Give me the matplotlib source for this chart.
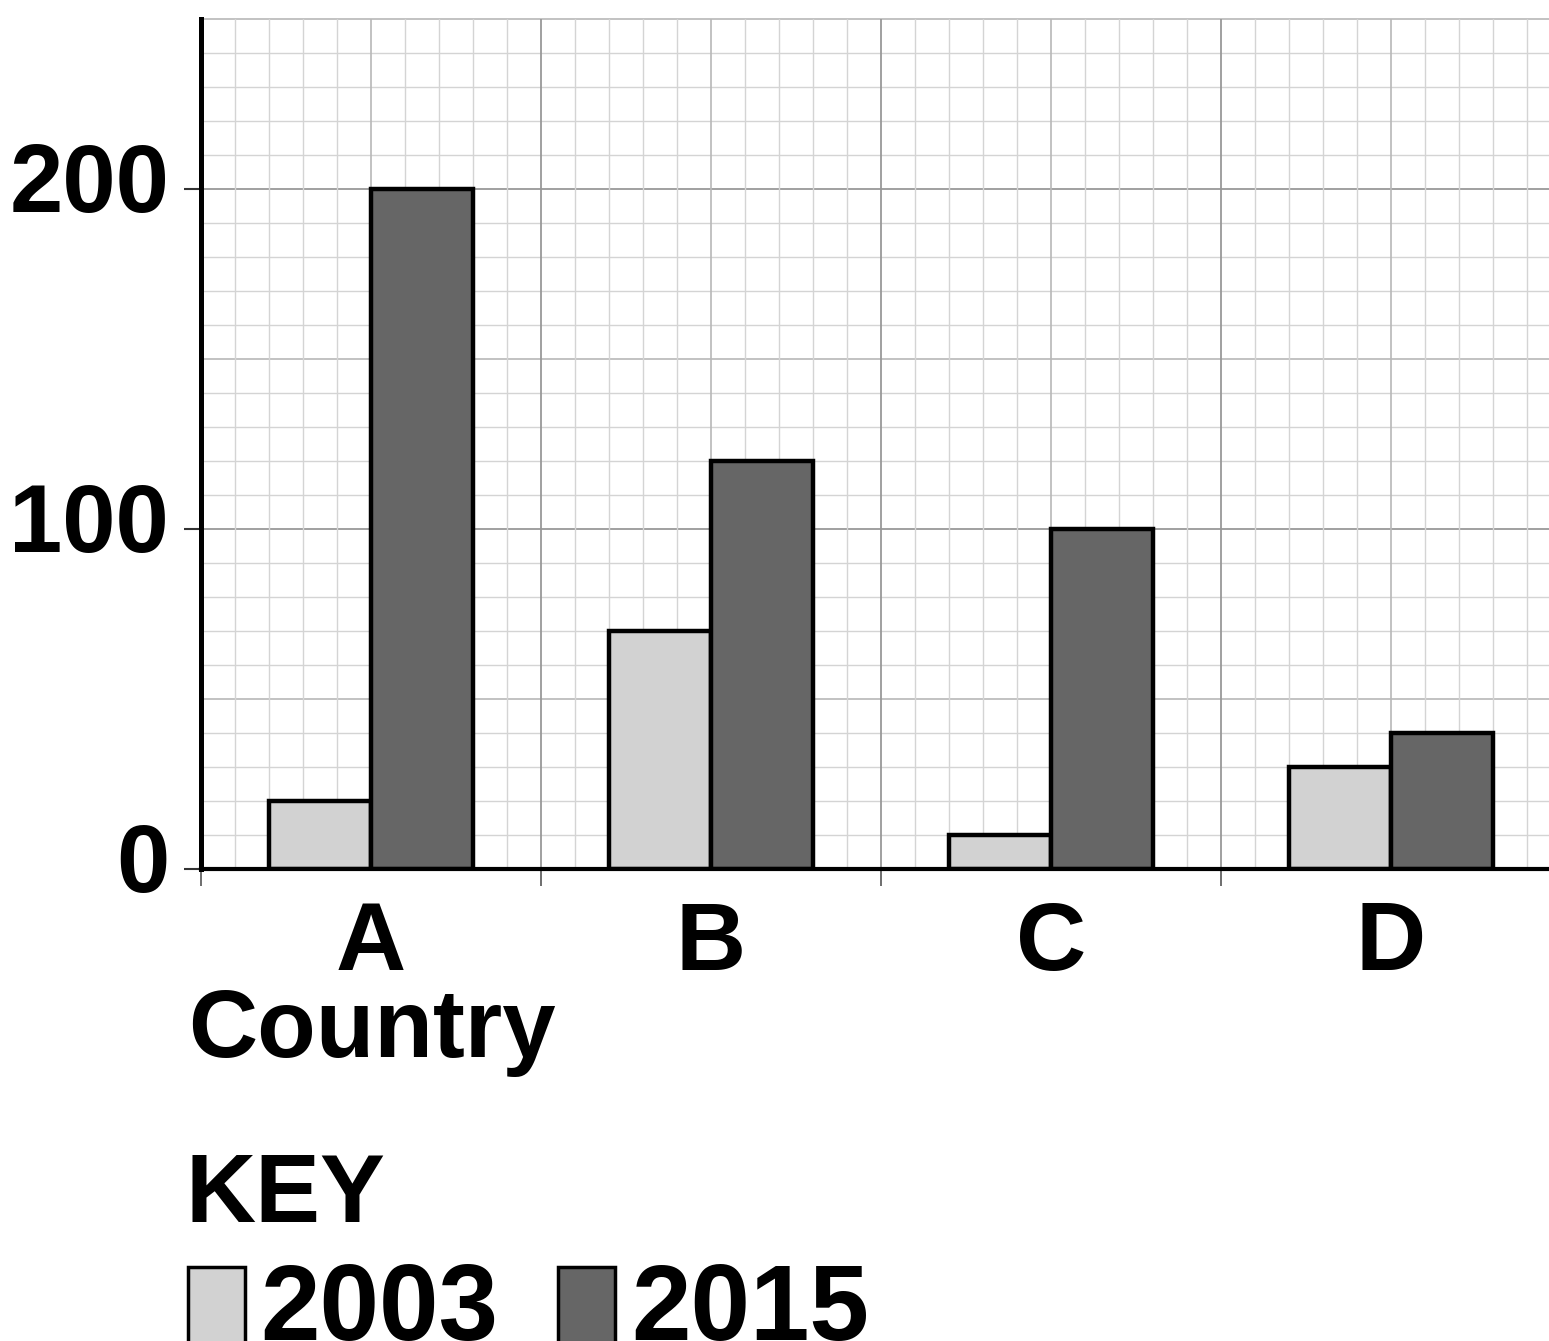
import numpy as np
import matplotlib
matplotlib.use("Agg")
import matplotlib.pyplot as plt
from matplotlib.patches import Rectangle
from matplotlib.transforms import ScaledTranslation

# ---- data ----
countries = ["A", "B", "C", "D"]
values_2003 = [20, 70, 10, 30]
values_2015 = [200, 120, 100, 40]
series_labels = ["2003", "2015"]
y_ticks = [0, 100, 200]

color_2003 = "#d2d2d2"
color_2015 = "#666666"

plt.rcParams["font.family"] = ["Liberation Sans", "DejaVu Sans"]
plt.rcParams["font.weight"] = "bold"

W, H = 1549, 1341
fig = plt.figure(figsize=(W / 100, H / 100), dpi=100)

def fx(px):
    return px / W

def fy(py):
    return 1 - py / H

ax_left, ax_bottom, ax_top = 201, 869, 19
ax = fig.add_axes([fx(ax_left), fy(ax_bottom), 1 - fx(ax_left), (ax_bottom - ax_top) / H])

x_max = (W - ax_left) / 340.0
ax.set_xlim(0, x_max)
ax.set_ylim(0, 250)

# ---- grid (three levels) ----
minor_c, mid_c, major_c = "#d4d4d4", "#b8b8b8", "#989898"
for v in np.arange(0, 251, 10):
    if v % 100 == 0:
        c, lw = major_c, 1.3
    elif v % 50 == 0:
        c, lw = mid_c, 1.2
    else:
        c, lw = minor_c, 1.0
    ax.axhline(v, color=c, lw=lw, zorder=0, clip_on=False)
for i in range(0, int(x_max * 10) + 1):
    v = i / 10.0
    if i % 10 == 0:
        c, lw = major_c, 1.3
    elif i % 5 == 0:
        c, lw = mid_c, 1.2
    else:
        c, lw = minor_c, 1.0
    ax.axvline(v, color=c, lw=lw, zorder=0)

# ---- bars ----
x = np.arange(len(countries)) + 0.5
bw = 0.3
ax.bar(x - bw / 2, values_2003, width=bw, color=color_2003, edgecolor="black",
       linewidth=3.2, zorder=3)
ax.bar(x + bw / 2, values_2015, width=bw, color=color_2015, edgecolor="black",
       linewidth=3.2, zorder=3)

# ---- spines ----
for s in ["top", "right"]:
    ax.spines[s].set_visible(False)
ax.spines["left"].set_linewidth(3.6)
ax.spines["bottom"].set_linewidth(3.0)
ax.spines["left"].set_zorder(5)
ax.spines["bottom"].set_zorder(5)

# ---- ticks ----
ax.set_yticks(y_ticks)
ax.set_yticklabels([str(t) for t in y_ticks], fontsize=69, fontweight="bold")
ax.tick_params(axis="y", which="major", length=12, width=1.5, pad=11, color="#333333")
off = ScaledTranslation(0, 12 / 100, fig.dpi_scale_trans)
for lab in ax.get_yticklabels():
    lab.set_transform(lab.get_transform() + off)

ax.set_xticks([0, 1, 2, 3])
ax.set_xticklabels(["", "", "", ""])
ax.tick_params(axis="x", which="major", length=12, width=1.2, color="#555555")
ax.set_xticks(x, minor=True)
ax.set_xticklabels(countries, minor=True, fontsize=70, fontweight="bold")
ax.tick_params(axis="x", which="minor", length=0, pad=22)

# ---- axis title and key ----
fig.text(fx(188), fy(1057), "Country", fontsize=69, fontweight="bold",
         ha="left", va="baseline")
fig.text(fx(186), fy(1222), "KEY", fontsize=70, fontweight="bold",
         ha="left", va="baseline")

patch_specs = [(188, color_2003, 260), (558, color_2015, 631)]
for (px, col, tx), lab in zip(patch_specs, series_labels):
    fig.patches.append(Rectangle((fx(px), fy(1350)), fx(57), (1350 - 1267) / H,
                                 transform=fig.transFigure, facecolor=col,
                                 edgecolor="black", linewidth=2.5))
    fig.text(fx(tx), fy(1340), lab, fontsize=77, fontweight="bold",
             ha="left", va="baseline")

fig.savefig("out.png", dpi=100)
